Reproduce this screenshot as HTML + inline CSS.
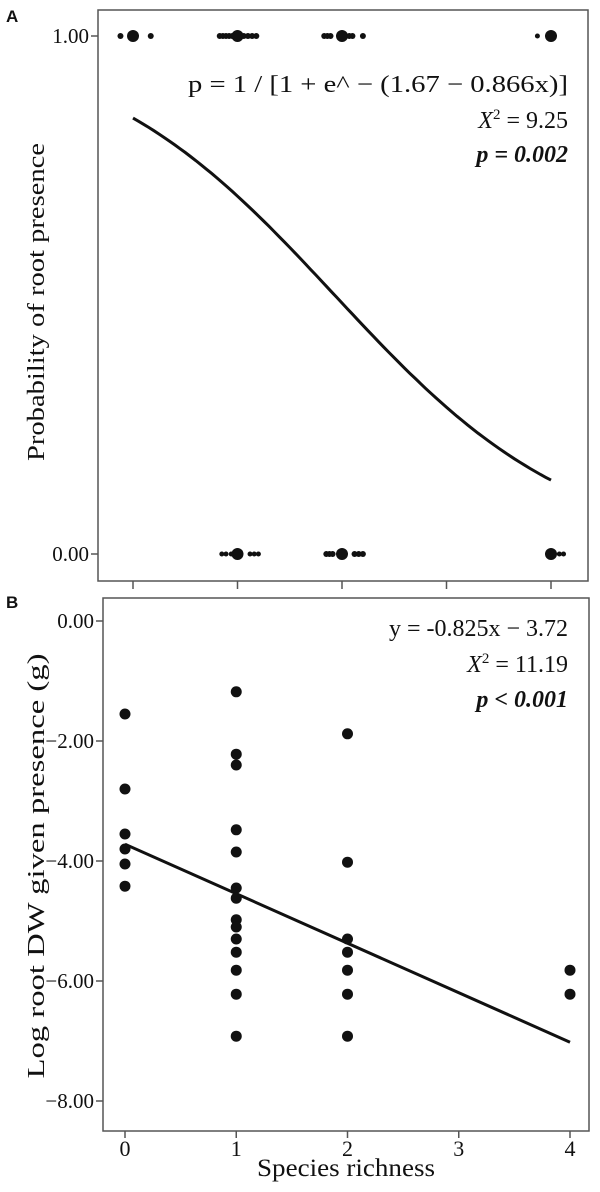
<!DOCTYPE html>
<html><head><meta charset="utf-8"><style>
body{margin:0;background:#fff}
svg text{font-family:"Liberation Serif",serif;fill:#111}
</style></head><body>
<svg width="600" height="1187" viewBox="0 0 600 1187" id="svg">
<text x="6" y="22" style="font-family:'Liberation Sans',sans-serif;font-weight:bold;font-size:17px">A</text>
<text x="6" y="608" style="font-family:'Liberation Sans',sans-serif;font-weight:bold;font-size:17px">B</text>
<rect x="98" y="10" width="490" height="571" fill="none" stroke="#555" stroke-width="1.5"/>
<rect x="103" y="598" width="486" height="533" fill="none" stroke="#555" stroke-width="1.5"/>
<text x="44" y="302" font-size="24" text-anchor="middle" textLength="318" lengthAdjust="spacingAndGlyphs" transform="rotate(-90 44 302)">Probability of root presence</text>
<text x="44" y="866" font-size="24" text-anchor="middle" textLength="425" lengthAdjust="spacingAndGlyphs" transform="rotate(-90 44 866)">Log root DW given presence (g)</text>
<text x="346" y="1176" font-size="25" text-anchor="middle" textLength="178" lengthAdjust="spacingAndGlyphs">Species richness</text>
<text x="568" y="92" font-size="24" text-anchor="end" textLength="380" lengthAdjust="spacingAndGlyphs">p = 1 / [1 + e^ − (1.67 − 0.866x)]</text>
<text x="568" y="128" font-size="24" text-anchor="end"><tspan font-style="italic">X</tspan><tspan font-size="15" dy="-9">2</tspan><tspan dy="9"> = 9.25</tspan></text>
<text x="568" y="162" font-size="24" text-anchor="end" font-weight="bold" font-style="italic">p = 0.002</text>
<text x="568" y="636" font-size="24" text-anchor="end">y = -0.825x − 3.72</text>
<text x="568" y="672" font-size="24" text-anchor="end"><tspan font-style="italic">X</tspan><tspan font-size="15" dy="-9">2</tspan><tspan dy="9"> = 11.19</tspan></text>
<text x="568" y="707" font-size="24" text-anchor="end" font-weight="bold" font-style="italic">p &lt; 0.001</text>
<g id="g"></g>
</svg>
<script>
const xTicks=[0,1,2,3,4];
const aYTicks=[0,1];
const aYLabels=["0.00","1.00"];
const bYTicks=[0,-2,-4,-6,-8];
const bYLabels=["0.00","−2.00","−4.00","−6.00","−8.00"];
const aIntercept=1.67, aSlope=-0.866;
const bIntercept=-3.72, bSlope=-0.825;
// jittered presence points: x, y(0/1), offset in richness units, size
const aPtX=[0,0,0,1,1,1,1,1,1,1,1,1,1,2,2,2,2,2,2,2,4,4, 1,1,1,1,1,1,1,2,2,2,2,2,2,2,4,4,4];
const aPtY=[1,1,1,1,1,1,1,1,1,1,1,1,1,1,1,1,1,1,1,1,1,1, 0,0,0,0,0,0,0,0,0,0,0,0,0,0,0,0,0];
const aPtOff=[0,-0.12,0.17,0,-0.17,-0.14,-0.11,-0.08,-0.05,0.06,0.1,0.14,0.18,0,-0.17,-0.14,-0.11,0.07,0.1,0.2,0,-0.13, 0,-0.15,-0.11,-0.06,0.12,0.16,0.2,0,-0.15,-0.12,-0.09,0.12,0.16,0.2,0,0.08,0.12];
const aPtR=[6,3,3,6,3,3,3,3,3,3,3,3,3,6,3,3,3,3,3,3,6,2.5, 6,2.5,2.5,2.5,2.5,2.5,2.5,6,3,3,3,3,3,3,6,2.5,2.5];
const bX=[0,0,0,0,0,0,1,1,1,1,1,1,1,1,1,1,1,1,1,1,2,2,2,2,2,2,2,4,4];
const bY=[-1.55,-2.8,-3.55,-3.8,-4.05,-4.42,-1.18,-2.22,-2.4,-3.48,-3.85,-4.45,-4.62,-4.98,-5.1,-5.3,-5.52,-5.82,-6.22,-6.92,-1.88,-4.02,-5.3,-5.52,-5.82,-6.22,-6.92,-5.82,-6.22];
const ax=v=>133+v*104.5, ay=v=>554-v*518;
const bx=v=>125+v*111.25, by=v=>621-v*60;
const g=document.getElementById('g');
const NS='http://www.w3.org/2000/svg';
function mk(t,a){const e=document.createElementNS(NS,t);for(const k in a)e.setAttribute(k,a[k]);g.appendChild(e);return e;}
xTicks.forEach(v=>{const e=mk('line',{x1:ax(v),x2:ax(v),y1:581,y2:589,stroke:'#555','stroke-width':1.5});

});
aYTicks.forEach((v,i)=>{const l=mk('line',{x1:91,x2:98,y1:ay(v),y2:ay(v),stroke:'#555','stroke-width':1.5});


const t=mk('text',{x:89,y:ay(v)+7,'font-size':21,'text-anchor':'end'});t.textContent=aYLabels[i];

});
let d='';for(let i=0;i<=80;i++){const x=i/20;const p=1/(1+Math.exp(-(aIntercept+aSlope*x)));d+=(i?'L':'M')+ax(x).toFixed(1)+','+ay(p).toFixed(1);}
const c=mk('path',{d:d,fill:'none',stroke:'#111','stroke-width':3});


aPtX.forEach((v,i)=>{const e=mk('circle',{cx:ax(v+aPtOff[i]),cy:ay(aPtY[i]),r:aPtR[i],fill:'#111'});

});
xTicks.forEach(v=>{const l=mk('line',{x1:bx(v),x2:bx(v),y1:1131,y2:1138,stroke:'#555','stroke-width':1.5});


const t=mk('text',{x:bx(v),y:1156,'font-size':22,'text-anchor':'middle'});t.textContent=String(v);

});
bYTicks.forEach((v,i)=>{const l=mk('line',{x1:96,x2:103,y1:by(v),y2:by(v),stroke:'#555','stroke-width':1.5});


const t=mk('text',{x:94,y:by(v)+7,'font-size':21,'text-anchor':'end'});t.textContent=bYLabels[i];

});
const rl=mk('line',{x1:bx(0),y1:by(bIntercept),x2:bx(4),y2:by(bIntercept+4*bSlope),stroke:'#111','stroke-width':3});


bX.forEach((v,i)=>{const e=mk('circle',{cx:bx(v),cy:by(bY[i]),r:5.5,fill:'#111'});

});
</script>
</body></html>
